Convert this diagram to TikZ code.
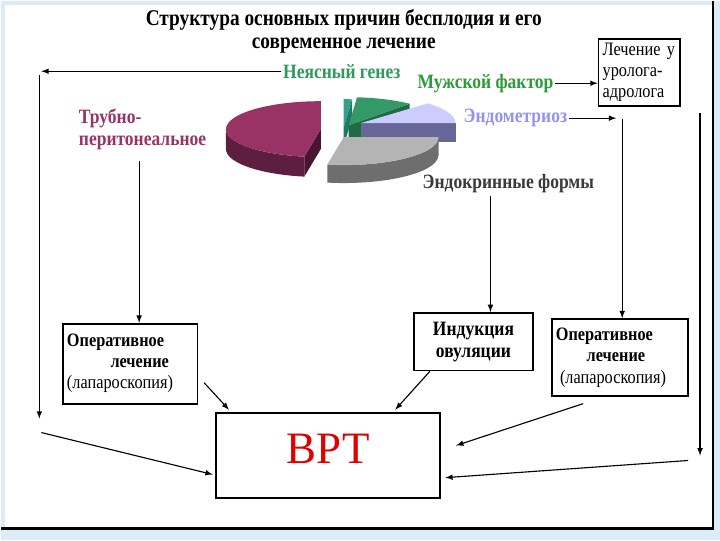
\documentclass[tikz,border=0pt]{standalone}
\usepackage{fontspec}
\setmainfont[FakeStretch=0.86]{Liberation Serif}
\newfontfamily\plainserif{Liberation Serif}
\usetikzlibrary{arrows,positioning}

\definecolor{slideblue}{HTML}{DCEBF8}
\definecolor{gengreen}{HTML}{2E9B5A}
\definecolor{malegreen}{HTML}{2F9A3A}
\definecolor{endolav}{HTML}{9494F0}
\definecolor{tubeplum}{HTML}{993366}
\definecolor{endogray}{HTML}{3A3A3A}
\definecolor{plumtop}{HTML}{993366}
\definecolor{plumside}{HTML}{5E1E40}
\definecolor{plumcut}{HTML}{4A1532}
\definecolor{graytop}{HTML}{B4B4B4}
\definecolor{grayside}{HTML}{6E6E6E}
\definecolor{lavtop}{HTML}{CCCCFF}
\definecolor{lavcut}{HTML}{666699}
\definecolor{greentop}{HTML}{339966}
\definecolor{greencut}{HTML}{1E6B45}
\definecolor{tealtop}{HTML}{33A08A}
\definecolor{tealcut}{HTML}{1F7A6A}
\definecolor{vrtred}{HTML}{E00000}

\begin{document}
\begin{tikzpicture}[x=0.025cm, y=0.025cm]

\tikzstyle{box}=[draw, line width=1.3pt, inner sep=3pt, align=left, font=\fontsize{13.5}{15}\selectfont]
\tikzstyle{cause}=[inner sep=1pt, font=\bfseries\fontsize{14.5}{15.6}\selectfont]
\tikzstyle{arrow}=[-latex, line width=0.8pt]
\tikzstyle{wire}=[line width=0.8pt]

% slide
\fill[slideblue] (0,0) rectangle (720,540);
\fill[white] (4,536) rectangle (713,12);
\draw[line width=2pt] (713,540) -- (713,12) -- (0,12);
\useasboundingbox (0,0) rectangle (720,540);

% pie
\fill[tealcut] (343,414) -- ++(85:95 and 28) -- ++(0,-19) -- (343,395) -- cycle;
\fill[tealtop] (343,414) -- ++(85:95 and 28) arc[start angle=85, end angle=90, x radius=95, y radius=28] -- cycle;
\fill[greencut] (348,416) -- ++(50:95 and 28) -- ++(0,-19) -- (348,397) -- cycle;
\fill[greentop] (348,416) -- ++(50:95 and 28) arc[start angle=50, end angle=85, x radius=95, y radius=28] -- cycle;
\fill[lavcut] (360,418) -- (455,418) -- (455,399) -- (360,399) -- cycle;
\fill[lavtop] (360,418) -- ++(0:95 and 28) arc[start angle=0, end angle=45, x radius=95, y radius=28] -- cycle;
\fill[plumside] (225,412) arc[start angle=180, end angle=260, x radius=95, y radius=28] -- ++(0,-20) arc[start angle=260, end angle=180, x radius=95, y radius=28] -- cycle;
\fill[plumcut] (320,412) -- ++(260:95 and 28) -- ++(0,-20) -- (320,392) -- cycle;
\fill[plumtop] (320,412) -- ++(90:95 and 28) arc[start angle=90, end angle=260, x radius=95, y radius=28] -- cycle;
\fill[grayside] (343,404) ++(260:95 and 28) arc[start angle=260, end angle=360, x radius=95, y radius=28] -- ++(0,-18) arc[start angle=360, end angle=260, x radius=95, y radius=28] -- cycle;
\fill[graytop] (343,404) -- ++(260:95 and 28) arc[start angle=260, end angle=360, x radius=95, y radius=28] -- cycle;

% texts
\node (title) at (343,510) [align=center, font=\bfseries\fontsize{16}{17}\selectfont] {Структура основных причин бесплодия и его\\современное лечение};
\node (gen) at (341,470) [cause, text=gengreen] {Неясный генез};
\node (male) at (485,458) [cause, text=malegreen] {Мужской фактор};
\node (endo) at (515,423) [cause, text=endolav] {Эндометриоз};
\node (tube) at (76,434) [cause, anchor=north west, align=left, text=tubeplum] {Трубно-\\перитонеальное};
\node (endocr) at (508,357) [cause, text=endogray] {Эндокринные формы};

% boxes
\node (uro) at (639,469) [box, text width=52pt, minimum height=47pt] {Лечение у\\уролога-\\адролога};
\node (oper1) at (129,177) [box, text width=90pt, minimum height=57pt] {\textbf{Оперативное}\\\hspace*{31pt}\textbf{лечение}\\(лапароскопия)};
\node (induct) at (473,199) [box, align=center, text width=79pt, minimum height=41pt, font=\bfseries\fontsize{14.5}{15.6}\selectfont] {Индукция\\овуляции};
\node (oper2) at (619.5,183) [box, text width=91pt, minimum height=55pt] {\textbf{Оперативное}\\\hspace*{22pt}\textbf{лечение}\\\hspace*{3pt}(лапароскопия)};
\node (vrt) at (327.5,85) [draw, line width=1.3pt, minimum width=159.5pt, minimum height=61pt, text depth=10pt, text=vrtred, font=\plainserif\fontsize{32}{32}\selectfont] {ВРТ};

% connectors
\coordinate (lt) at (40,470);
\coordinate (lv) at (38,466);
\coordinate (lb) at (38,122);
\coordinate (ls) at (40,108);
\coordinate (r1) at (700,428);
\coordinate (r2) at (700,85);
\coordinate (r3) at (688,80);
\coordinate (e1) at (616,423);
\coordinate (e2) at (622,422);
\coordinate (t1) at (138,380);
\coordinate (f1) at (490,345);
\coordinate (o1) at (203,158);
\coordinate (o2) at (583,137);

\draw [arrow] (gen.west) -- (lt);
\draw [arrow] (lv) -- (lb);
\draw [arrow, shorten >=2pt] (ls) -- ([yshift=-14pt]vrt.west);
\draw [arrow] (male.east) -- (male.east -| uro.west);
\draw [arrow] (r1) -- (r2);
\draw [arrow, shorten >=3pt] (r3) -- ([yshift=-16pt]vrt.east);
\draw [arrow] (endo.east) -- (e1);
\draw [arrow] (e2) -- (e2 |- oper2.north);
\draw [arrow] (t1) -- (t1 |- oper1.north);
\draw [arrow] (f1) -- (f1 |- induct.north);
\draw [arrow, shorten >=2pt] (o1) -- ([xshift=11pt]vrt.north west);
\draw [arrow, shorten >=2pt] ([xshift=12pt]induct.south west) -- ([xshift=-34pt]vrt.north east);
\draw [arrow] (o2) -- ([shift={(15,10)}]vrt.east);

\end{tikzpicture}
\end{document}
